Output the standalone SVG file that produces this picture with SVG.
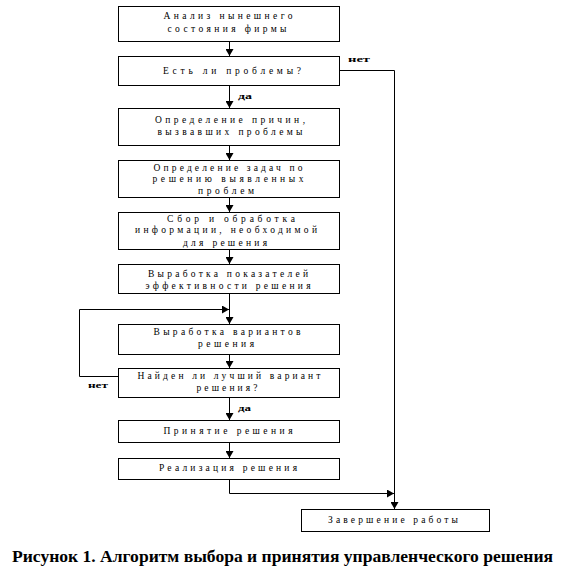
<svg xmlns="http://www.w3.org/2000/svg" width="568" height="581" viewBox="0 0 568 581">
<style>
.box{fill:#fff;stroke:#000;stroke-width:1}
.t{font-family:"Liberation Serif","Times New Roman",serif;font-size:9.5px;fill:#000;text-anchor:middle}
.lbl{font-family:"Liberation Serif","Times New Roman",serif;font-size:8px;font-weight:bold;fill:#000}
.ln{fill:none;stroke:#000;stroke-width:1}
.cap{font-family:"Liberation Serif","Times New Roman",serif;font-size:16px;font-weight:bold;fill:#000}
</style>
<defs>
<marker id="ah" viewBox="0 0 7 8" refX="7" refY="4" markerWidth="7" markerHeight="8" markerUnits="userSpaceOnUse" orient="auto">
<path d="M0,0 L7,4 L0,8 Z" fill="#000"/>
</marker>
</defs>
<rect width="568" height="581" fill="#fff"/>
<g id="connectors">
<line class="ln" x1="229.5" y1="41" x2="229.5" y2="56" marker-end="url(#ah)"/>
<line class="ln" x1="229.5" y1="85" x2="229.5" y2="108" marker-end="url(#ah)"/>
<line class="ln" x1="229.5" y1="145" x2="229.5" y2="160" marker-end="url(#ah)"/>
<line class="ln" x1="229.5" y1="197" x2="229.5" y2="212" marker-end="url(#ah)"/>
<line class="ln" x1="229.5" y1="249" x2="229.5" y2="264" marker-end="url(#ah)"/>
<line class="ln" x1="229.5" y1="293" x2="229.5" y2="324" marker-end="url(#ah)"/>
<line class="ln" x1="229.5" y1="354" x2="229.5" y2="368" marker-end="url(#ah)"/>
<line class="ln" x1="229.5" y1="397" x2="229.5" y2="420" marker-end="url(#ah)"/>
<line class="ln" x1="229.5" y1="442" x2="229.5" y2="458" marker-end="url(#ah)"/>
<polyline class="ln" points="339,70.5 394.5,70.5 394.5,509" marker-end="url(#ah)"/>
<polyline class="ln" points="229.5,479 229.5,493.5 394,493.5" marker-end="url(#ah)"/>
<polyline class="ln" points="118,376.5 79.5,376.5 79.5,309.5 229,309.5" marker-end="url(#ah)"/>
<text class="lbl" x="348" y="62" textLength="22" lengthAdjust="spacingAndGlyphs">нет</text>
<text class="lbl" x="238" y="99" textLength="14" lengthAdjust="spacingAndGlyphs">да</text>
<text class="lbl" x="88" y="388" textLength="20" lengthAdjust="spacingAndGlyphs">нет</text>
<text class="lbl" x="238" y="411" textLength="13" lengthAdjust="spacingAndGlyphs">да</text>
</g>
<g id="n1"><rect class="box" x="118.5" y="6.5" width="221" height="35"/>
<text class="t" x="228" y="19" textLength="129">Анализ нынешнего</text>
<text class="t" x="227" y="32" textLength="119">состояния фирмы</text></g>
<g id="n2"><rect class="box" x="118.5" y="56.5" width="221" height="29"/>
<text class="t" x="232" y="74" textLength="138">Есть ли проблемы?</text></g>
<g id="n3"><rect class="box" x="118.5" y="108.5" width="221" height="37"/>
<text class="t" x="230" y="123" textLength="150">Определение причин,</text>
<text class="t" x="230" y="135" textLength="145">вызвавших проблемы</text></g>
<g id="n4"><rect class="box" x="118.5" y="160.5" width="221" height="37"/>
<text class="t" x="228" y="171" textLength="149">Определение задач по</text>
<text class="t" x="228" y="182" textLength="151">решению выявленных</text>
<text class="t" x="226" y="194" textLength="56">проблем</text></g>
<g id="n5"><rect class="box" x="118.5" y="212.5" width="221" height="37"/>
<text class="t" x="231" y="222" textLength="128">Сбор и обработка</text>
<text class="t" x="226" y="233" textLength="182">информации, необходимой</text>
<text class="t" x="225" y="246" textLength="84">для решения</text></g>
<g id="n6"><rect class="box" x="118.5" y="264.5" width="221" height="29"/>
<text class="t" x="228" y="277" textLength="160">Выработка показателей</text>
<text class="t" x="228" y="289" textLength="165">эффективности решения</text></g>
<g id="n7"><rect class="box" x="118.5" y="324.5" width="221" height="30"/>
<text class="t" x="227" y="335" textLength="147">Выработка вариантов</text>
<text class="t" x="226" y="347" textLength="56">решения</text></g>
<g id="n8"><rect class="box" x="118.5" y="368.5" width="221" height="29"/>
<text class="t" x="229" y="379" textLength="183">Найден ли лучший вариант</text>
<text class="t" x="227" y="391" textLength="61">решения?</text></g>
<g id="n9"><rect class="box" x="118.5" y="420.5" width="221" height="22"/>
<text class="t" x="228" y="434" textLength="129">Принятие решения</text></g>
<g id="n10"><rect class="box" x="118.5" y="458.5" width="221" height="21"/>
<text class="t" x="228" y="471" textLength="138">Реализация решения</text></g>
<g id="n11"><rect class="box" x="301.5" y="509.5" width="188" height="22"/>
<text class="t" x="393" y="523" textLength="130">Завершение работы</text></g>
<text class="cap" x="12" y="562" textLength="541" lengthAdjust="spacingAndGlyphs">Рисунок 1. Алгоритм выбора и принятия управленческого решения</text>
</svg>
